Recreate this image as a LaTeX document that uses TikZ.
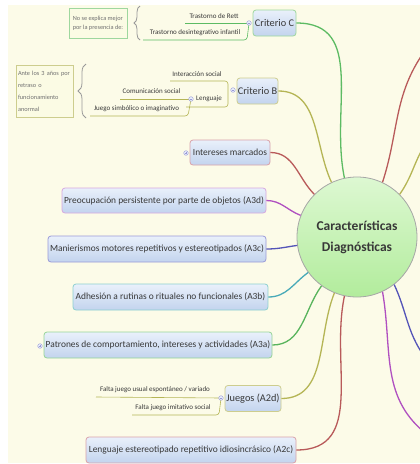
\documentclass[tikz,border=0pt]{standalone}
\usepackage{fontspec}
\setmainfont{Carlito}
\usetikzlibrary{decorations.pathreplacing}

\definecolor{bgcream}{HTML}{FCFBE8}
\definecolor{boxtop}{HTML}{E9F0FB}
\definecolor{boxbot}{HTML}{C3D4EE}
\definecolor{txt}{HTML}{383838}
\definecolor{notetxt}{HTML}{707070}
\definecolor{notefill}{HTML}{FBFBE4}
\definecolor{cGreen}{HTML}{5DBB63}
\definecolor{bGreen}{HTML}{9ED79E}
\definecolor{cOlive}{HTML}{B5B555}
\definecolor{bOlive}{HTML}{CDCD8E}
\definecolor{cRed}{HTML}{B85A5A}
\definecolor{bRed}{HTML}{D9A2AA}
\definecolor{cMag}{HTML}{B050C0}
\definecolor{bMag}{HTML}{D6A8E0}
\definecolor{cInd}{HTML}{5454B8}
\definecolor{bInd}{HTML}{9A9AD8}
\definecolor{cTeal}{HTML}{48AAB8}
\definecolor{bTeal}{HTML}{8CCFCF}
\definecolor{cGreenB}{HTML}{58B45C}
\definecolor{bGreenB}{HTML}{96D496}
\definecolor{hubtop}{HTML}{DDF8D2}
\definecolor{hubbot}{HTML}{B2EC9C}

\tikzset{
  topic/.style={draw=#1, rounded corners=3pt, line width=0.8pt,
    top color=boxtop, bottom color=boxbot, text=txt,
    font=\fontsize{9.4}{10}\selectfont, inner sep=0pt, minimum height=26pt},
  conn/.style={draw=#1, line width=1.3pt},
  twig/.style={draw=#1, line width=0.6pt, rounded corners=3pt},
  subtxt/.style={text=txt, font=\fontsize{7}{8}\selectfont, inner sep=0pt},
  note/.style={draw=#1, line width=0.8pt, fill=notefill, text=notetxt,
    font=\fontsize{6.3}{12}\selectfont, align=left, inner sep=0pt},
  knob/.style={circle, draw=#1, fill=boxtop, line width=0.4pt,
    minimum size=4.6pt, inner sep=0pt},
  bracesty/.style={draw=gray!80, line width=0.8pt, decorate,
    decoration={brace, amplitude=#1}},
}

\begin{document}
\begin{tikzpicture}[x=1pt, y=-1pt]
\useasboundingbox (0,0) rectangle (420,464);
\fill[white] (0,0) rectangle (420,464);
\fill[bgcream] (8,5) rectangle (420,463);

% central topic
\node[circle, draw=gray!70, line width=0.8pt, top color=hubtop, bottom color=hubbot,
      minimum size=120pt, inner sep=0pt, text=txt, align=center,
      font=\fontsize{13.5}{21}\bfseries] (cd) at (357,237) {Características\\Diagnósticas};

% main topics on the left
\node[topic=bGreen, minimum width=43pt, font=\fontsize{10.3}{11}\selectfont] (critC) at (274.5,23) {Criterio C};
\node[topic=bOlive, minimum width=41pt, font=\fontsize{10.3}{11}\selectfont] (critB) at (257.5,91) {Criterio B};
\node[topic=bRed, minimum width=80pt, minimum height=25pt] (inter) at (230,152.5) {Intereses marcados};
\node[topic=bMag, minimum width=204pt, minimum height=25pt] (a3d) at (164,200.5) {Preocupación persistente por parte de objetos (A3d)};
\node[topic=bInd, minimum width=218pt] (a3c) at (157,249) {Manierismos motores repetitivos y estereotipados (A3c)};
\node[topic=bTeal, minimum width=195pt] (a3b) at (170.5,297) {Adhesión a rutinas o rituales no funcionales (A3b)};
\node[topic=bGreenB, minimum width=228pt] (a3a) at (158,345) {Patrones de comportamiento, intereses y actividades (A3a)};
\node[topic=bOlive, minimum width=56pt, font=\fontsize{10.3}{11}\selectfont] (a2d) at (253,398.5) {Juegos (A2d)};
\node[topic=bRed, minimum width=210pt] (a2c) at (191,450) {Lenguaje estereotipado repetitivo idiosincrásico (A2c)};

% branches into the central topic
\draw[conn=cGreen] (critC.east) to[out=0, in=102, looseness=1.1] (cd.102);
\draw[conn=cOlive] (critB.east) to[out=0, in=115] (cd.115);
\draw[conn=cRed]   (inter.east) to[out=0, in=135] (cd.135);
\draw[conn=cMag]   (a3d.east)   to[out=0, in=159] (cd.159);
\draw[conn=cInd]   (a3c.east)   to[out=0, in=188] (cd.188);
\draw[conn=cTeal]  (a3b.east)   to[out=0, in=216] (cd.216);
\draw[conn=cGreenB](a3a.east)   to[out=0, in=234] (cd.234);
\draw[conn=cOlive] (a2d.east)   to[out=0, in=248] (cd.248);
\draw[conn=cRed]   (a2c.east)   to[out=0, in=258, looseness=1.1] (cd.258);

% branches leaving to the right
\coordinate (r1) at (424,52);
\coordinate (r2) at (424,146);
\coordinate (r3) at (424,356);
\coordinate (r4) at (424,432);
\begin{scope}
\clip (0,0) rectangle (420,464);
\draw[conn=cRed]   (cd.65)  to[out=72, in=235] (r1);
\draw[conn=cOlive] (cd.45)  to[out=55, in=240] (r2);
\draw[conn=cInd]   (cd.308) to[out=-65, in=125] (r3);
\draw[conn=cMag]   (cd.295) to[out=-80, in=140] (r4);
\end{scope}

% Criterio C details
\coordinate (kc) at (249,23);
\node[subtxt] (rett) at (214,16) {Trastorno de Rett};
\node[subtxt] (tdi) at (195,33) {Trastorno desintegrativo infantil};
\draw[twig=cGreen] (185,23) -- (kc);
\draw[twig=cGreen] (kc) -- (247,40) -- (143,40);
\node[knob=bInd] (kcn) at (kc) {};
\draw[bInd, line width=0.4pt] ([xshift=-1.3pt]kcn.center) -- ([xshift=1.3pt]kcn.center);
\draw[bracesty=6pt] (140,40) -- (140,6);
\node[note=bGreen, minimum width=58pt, minimum height=30pt, font=\fontsize{6.3}{9}\selectfont] (noteC) at (98,23)
  {No se explica mejor\\por la presencia de:};

% Criterio B details
\coordinate (kb) at (233,90);
\node[subtxt] (inters) at (197,74) {Interacción social};
\node[subtxt] (leng) at (209,99) {Lenguaje};
\draw[twig=cOlive] (170,81) -- (228,81) -- (228,107) -- (186,107);
\node[knob=bInd] (kbn) at (kb) {};
\draw[bInd, line width=0.4pt] ([xshift=-1.3pt]kbn.center) -- ([xshift=1.3pt]kbn.center);
\coordinate (kl) at (191,99);
\node[subtxt] (comsoc) at (151.5,91.5) {Comunicación social};
\node[subtxt] (juegos) at (136.5,108.5) {Juego simbólico o imaginativo};
\draw[twig=cOlive] (120,99) -- (kl);
\draw[twig=cOlive] (kl) -- (188,116) -- (90,116);
\node[knob=bInd] (kln) at (kl) {};
\draw[bInd, line width=0.4pt] ([xshift=-1.3pt]kln.center) -- ([xshift=1.3pt]kln.center);
\draw[bracesty=8pt] (86,118) -- (86,64);
\node[note=bOlive, minimum width=57pt, minimum height=52pt, text width=53pt] (noteB) at (44.5,91)
  {Ante los 3 años por\\retraso o\\funcionamiento\\anormal};

% Juegos details
\coordinate (kj) at (221,398);
\node[subtxt] (fju) at (155,389.5) {Falta juego usual espontáneo / variado};
\node[subtxt] (fji) at (173,407.5) {Falta juego imitativo social};
\draw[twig=cOlive] (96,397) -- (kj);
\draw[twig=cOlive] (kj) -- (219,415) -- (132,415);
\node[knob=bInd] (kjn) at (kj) {};
\draw[bInd, line width=0.4pt] ([xshift=-1.3pt]kjn.center) -- ([xshift=1.3pt]kjn.center);

% collapsed markers
\node[knob=bInd] (pi) at (186,153) {};
\draw[bInd, line width=0.4pt] ([xshift=-1.3pt]pi.center) -- ([xshift=1.3pt]pi.center)
  ([yshift=-1.3pt]pi.center) -- ([yshift=1.3pt]pi.center);
\node[knob=bInd] (pa) at (40,346) {};
\draw[bInd, line width=0.4pt] ([xshift=-1.3pt]pa.center) -- ([xshift=1.3pt]pa.center)
  ([yshift=-1.3pt]pa.center) -- ([yshift=1.3pt]pa.center);
\end{tikzpicture}
\end{document}
